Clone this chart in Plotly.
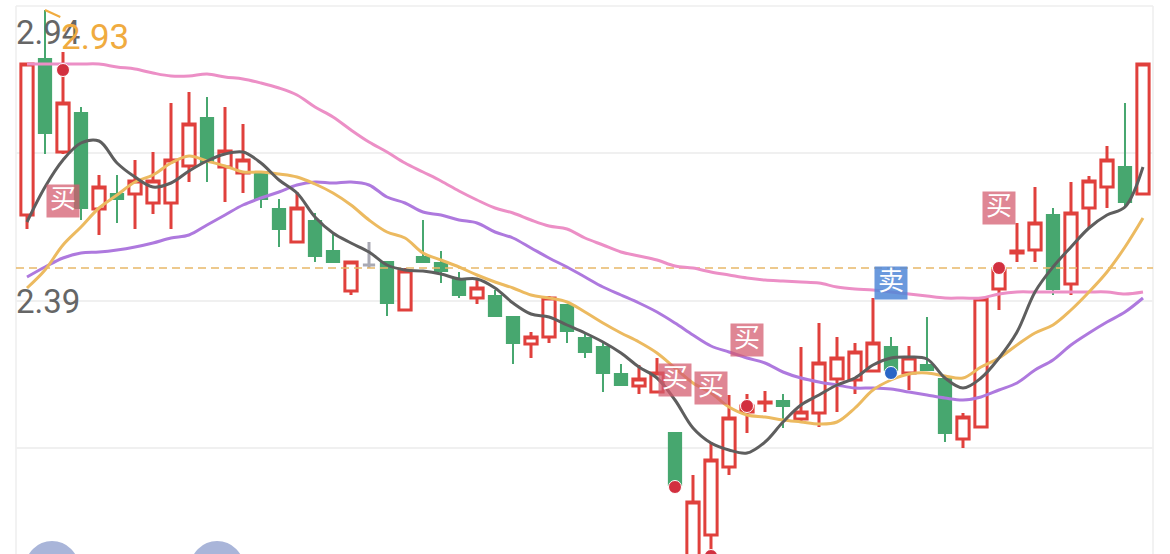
import plotly.graph_objects as go

# ---- candlestick data (price) ----
opens = [2.570,2.882,2.696,2.774,2.582,2.612,2.612,2.594,2.594,2.668,2.764,2.666,2.654,2.656,2.582,2.516,2.558,2.498,2.418,2.470,
         2.476,2.380,2.486,2.474,2.442,2.404,2.408,2.366,2.312,2.326,2.390,2.324,2.306,2.252,2.228,2.216,2.134,1.860,1.930,2.066,
         2.176,2.194,2.198,2.162,2.174,2.242,2.240,2.258,2.306,2.254,2.270,2.242,2.122,2.146,2.422,2.494,2.500,2.570,2.432,2.584,
         2.626,2.666,2.612]
highs = [2.872,2.980,2.896,2.786,2.650,2.650,2.680,2.696,2.794,2.816,2.806,2.786,2.752,2.656,2.602,2.616,2.574,2.536,2.476,2.516,
         2.476,2.464,2.560,2.498,2.456,2.440,2.420,2.366,2.336,2.408,2.390,2.334,2.314,2.272,2.270,2.284,2.134,2.050,2.116,2.210,
         2.212,2.218,2.212,2.306,2.354,2.326,2.314,2.404,2.326,2.308,2.366,2.242,2.174,2.402,2.474,2.554,2.626,2.584,2.636,2.648,
         2.708,2.794,2.872]
lows = [2.542,2.692,2.692,2.560,2.530,2.554,2.542,2.572,2.542,2.636,2.636,2.596,2.614,2.584,2.506,2.516,2.476,2.476,2.410,2.464,
        2.368,2.378,2.476,2.434,2.404,2.392,2.368,2.272,2.284,2.314,2.314,2.284,2.216,2.230,2.212,2.216,2.030,1.860,1.900,2.050,
        2.134,2.176,2.144,2.156,2.146,2.176,2.212,2.258,2.260,2.220,2.260,2.116,2.104,2.146,2.380,2.476,2.476,2.410,2.410,2.544,
        2.584,2.584,2.612]
closes = [2.872,2.734,2.794,2.584,2.626,2.602,2.638,2.638,2.680,2.752,2.676,2.698,2.680,2.602,2.542,2.584,2.488,2.476,2.476,2.470,
          2.394,2.458,2.476,2.458,2.410,2.424,2.368,2.314,2.326,2.404,2.338,2.296,2.254,2.230,2.242,2.254,2.030,1.996,2.080,2.164,
          2.188,2.196,2.188,2.176,2.274,2.284,2.296,2.314,2.260,2.284,2.260,2.134,2.166,2.402,2.460,2.498,2.554,2.422,2.574,2.638,
          2.680,2.596,2.872]
doji_index = 19

# ---- moving averages ----
ma_gray = [2.556,2.626,2.680,2.714,2.718,2.674,2.646,2.626,2.634,2.658,2.678,2.692,2.696,2.674,2.640,2.614,2.566,2.534,2.514,2.496,
           2.470,2.460,2.458,2.452,2.442,2.442,2.424,2.394,2.372,2.366,2.350,2.334,2.316,2.294,2.266,2.244,2.200,2.144,2.114,2.100,
           2.094,2.116,2.156,2.190,2.210,2.230,2.244,2.270,2.284,2.286,2.282,2.244,2.224,2.244,2.284,2.336,2.416,2.466,2.506,2.544,
           2.570,2.586,2.666]
ma_orange = [2.424,2.460,2.510,2.546,2.584,2.610,2.636,2.650,2.674,2.688,2.678,2.668,2.656,2.656,2.652,2.646,2.632,2.614,2.590,2.560,
             2.536,2.524,2.494,2.480,2.466,2.450,2.436,2.424,2.410,2.404,2.396,2.376,2.354,2.334,2.316,2.294,2.264,2.234,2.214,2.186,
             2.170,2.166,2.160,2.156,2.152,2.156,2.184,2.220,2.240,2.252,2.254,2.248,2.244,2.266,2.284,2.310,2.334,2.350,2.380,2.416,
             2.456,2.506,2.564]
ma_purple = [2.446,2.466,2.484,2.494,2.496,2.500,2.506,2.514,2.524,2.530,2.550,2.570,2.590,2.604,2.616,2.630,2.636,2.634,2.636,2.630,
             2.606,2.594,2.576,2.570,2.560,2.554,2.536,2.524,2.504,2.484,2.466,2.446,2.426,2.410,2.394,2.376,2.354,2.330,2.308,2.296,
             2.284,2.274,2.256,2.244,2.236,2.230,2.224,2.224,2.222,2.216,2.210,2.204,2.200,2.206,2.220,2.234,2.260,2.280,2.310,2.334,
             2.356,2.376,2.404]
ma_pink = [2.872,2.872,2.872,2.872,2.872,2.866,2.862,2.854,2.848,2.848,2.852,2.846,2.842,2.834,2.824,2.810,2.786,2.766,2.740,2.716,
           2.696,2.674,2.656,2.638,2.618,2.600,2.584,2.574,2.560,2.548,2.542,2.524,2.510,2.496,2.488,2.480,2.468,2.464,2.456,2.450,
           2.444,2.440,2.438,2.436,2.434,2.426,2.422,2.420,2.416,2.412,2.408,2.404,2.404,2.404,2.412,2.416,2.416,2.416,2.416,2.416,
           2.416,2.412,2.416]

# ---- signals ----
buy_idx = [2, 36, 38, 40, 54]
buy_price = [2.598, 2.240, 2.224, 2.320, 2.584]
sell_idx = [48]
sell_price = [2.434]
dot_idx = [2, 36, 38, 40, 54]
dot_price = [2.860, 2.026, 1.888, 2.188, 2.464]
blue_dot_idx = [48]
blue_dot_price = [2.254]
prev_close = 2.464
grid_vals = [2.694, 2.398, 2.104]
x_range = [-0.611, 62.556]
y_range = [1.892, 2.988]
badge_idx = [1.39, 10.56]
badge_price = [1.864, 1.864]
peak_mark_idx = [1.0, 1.85]
peak_mark_price = [2.980, 2.966]

idx = list(range(len(opens)))
c_idx = [i for i in idx if i != doji_index]
pick = lambda a: [a[i] for i in c_idx]

RED, GREEN = "#e0403c", "#47a76f"

fig = go.Figure()
fig.add_trace(go.Candlestick(
    x=c_idx, open=pick(opens), high=pick(highs), low=pick(lows), close=pick(closes),
    increasing=dict(line=dict(color=RED, width=3), fillcolor="rgba(255,255,255,1)"),
    decreasing=dict(line=dict(color=GREEN, width=2), fillcolor=GREEN),
    whiskerwidth=0, showlegend=False))
fig.add_trace(go.Candlestick(
    x=[doji_index], open=[opens[doji_index]], high=[highs[doji_index]], low=[lows[doji_index]], close=[closes[doji_index]],
    increasing=dict(line=dict(color="#a9a9b3", width=3), fillcolor="#a9a9b3"),
    decreasing=dict(line=dict(color="#a9a9b3", width=3), fillcolor="#a9a9b3"),
    whiskerwidth=0, showlegend=False))

fig.add_trace(go.Scatter(x=x_range, y=[prev_close, prev_close], mode="lines",
                         line=dict(color="#e8b868", width=1.5, dash="8px,5px"), showlegend=False))
for arr, col in [(ma_pink, "#ec8fc6"), (ma_purple, "#ae79de"), (ma_orange, "#ecba60"), (ma_gray, "#5e5e5e")]:
    fig.add_trace(go.Scatter(x=idx, y=arr, mode="lines", line=dict(color=col, width=3, shape="spline", smoothing=1.0),
                             showlegend=False))
fig.add_trace(go.Scatter(x=peak_mark_idx, y=peak_mark_price, mode="lines",
                         line=dict(color="#f0ab3f", width=2), showlegend=False))
fig.add_trace(go.Scatter(x=badge_idx, y=badge_price, mode="markers",
                         marker=dict(color="#a9b5d9", size=54, line=dict(width=0)), showlegend=False))
fig.add_trace(go.Scatter(x=dot_idx, y=dot_price, mode="markers",
                         marker=dict(color="#d2303f", size=13, line=dict(color="white", width=1)), showlegend=False))
fig.add_trace(go.Scatter(x=blue_dot_idx, y=blue_dot_price, mode="markers",
                         marker=dict(color="#2a66c6", size=13, line=dict(color="white", width=1)), showlegend=False))
badge_font = dict(family="Noto Sans CJK SC", size=26, color="white")
fig.add_trace(go.Scatter(x=buy_idx, y=buy_price, mode="markers+text", text=["买"] * len(buy_idx),
                         textposition="middle center", textfont=badge_font,
                         marker=dict(symbol="square", color="rgba(212,92,110,0.74)", size=33, line=dict(width=0)),
                         showlegend=False))
fig.add_trace(go.Scatter(x=sell_idx, y=sell_price, mode="markers+text", text=["卖"],
                         textposition="middle center", textfont=badge_font,
                         marker=dict(symbol="square", color="rgba(80,135,215,0.85)", size=33, line=dict(width=0)),
                         showlegend=False))

label_font = dict(family="Roboto", size=33, color="#666666")
fig.add_annotation(xref="paper", x=0, xanchor="left", y=2.936, yanchor="middle", text="2.94", showarrow=False,
                   font=label_font, xshift=-2)
fig.add_annotation(xref="paper", x=0, xanchor="left", y=2.398, yanchor="middle", text="2.39", showarrow=False,
                   font=label_font, xshift=-2)
fig.add_annotation(xref="paper", x=0, xanchor="left", y=2.926, yanchor="middle", text="2.93", showarrow=False,
                   font=dict(family="Roboto", size=35, color="#f0ab3f"), xshift=43)

fig.update_layout(
    width=1170, height=554, margin=dict(l=16, r=17, t=6, b=0),
    paper_bgcolor="white", plot_bgcolor="white", boxgap=0.32, boxgroupgap=0, showlegend=False,
    xaxis=dict(range=x_range, showgrid=False, zeroline=False, showticklabels=False, ticks="",
               rangeslider=dict(visible=False), showline=False),
    yaxis=dict(range=y_range, tickvals=grid_vals, showticklabels=False, ticks="", zeroline=False,
               gridcolor="#f0f0f0", gridwidth=1.5),
    shapes=[
        dict(type="line", xref="paper", yref="paper", x0=0, x1=0, y0=0, y1=1, line=dict(color="#eeeeee", width=1.5), layer="below"),
        dict(type="line", xref="paper", yref="paper", x0=1, x1=1, y0=0, y1=1, line=dict(color="#eeeeee", width=1.5), layer="below"),
        dict(type="line", xref="paper", yref="paper", x0=0, x1=1, y0=1, y1=1, line=dict(color="#eeeeee", width=1.5), layer="below"),
    ],
)
fig.write_html("out.html", config={"displayModeBar": False},
               post_script="document.body.style.margin='0';document.body.style.overflow='hidden';")
